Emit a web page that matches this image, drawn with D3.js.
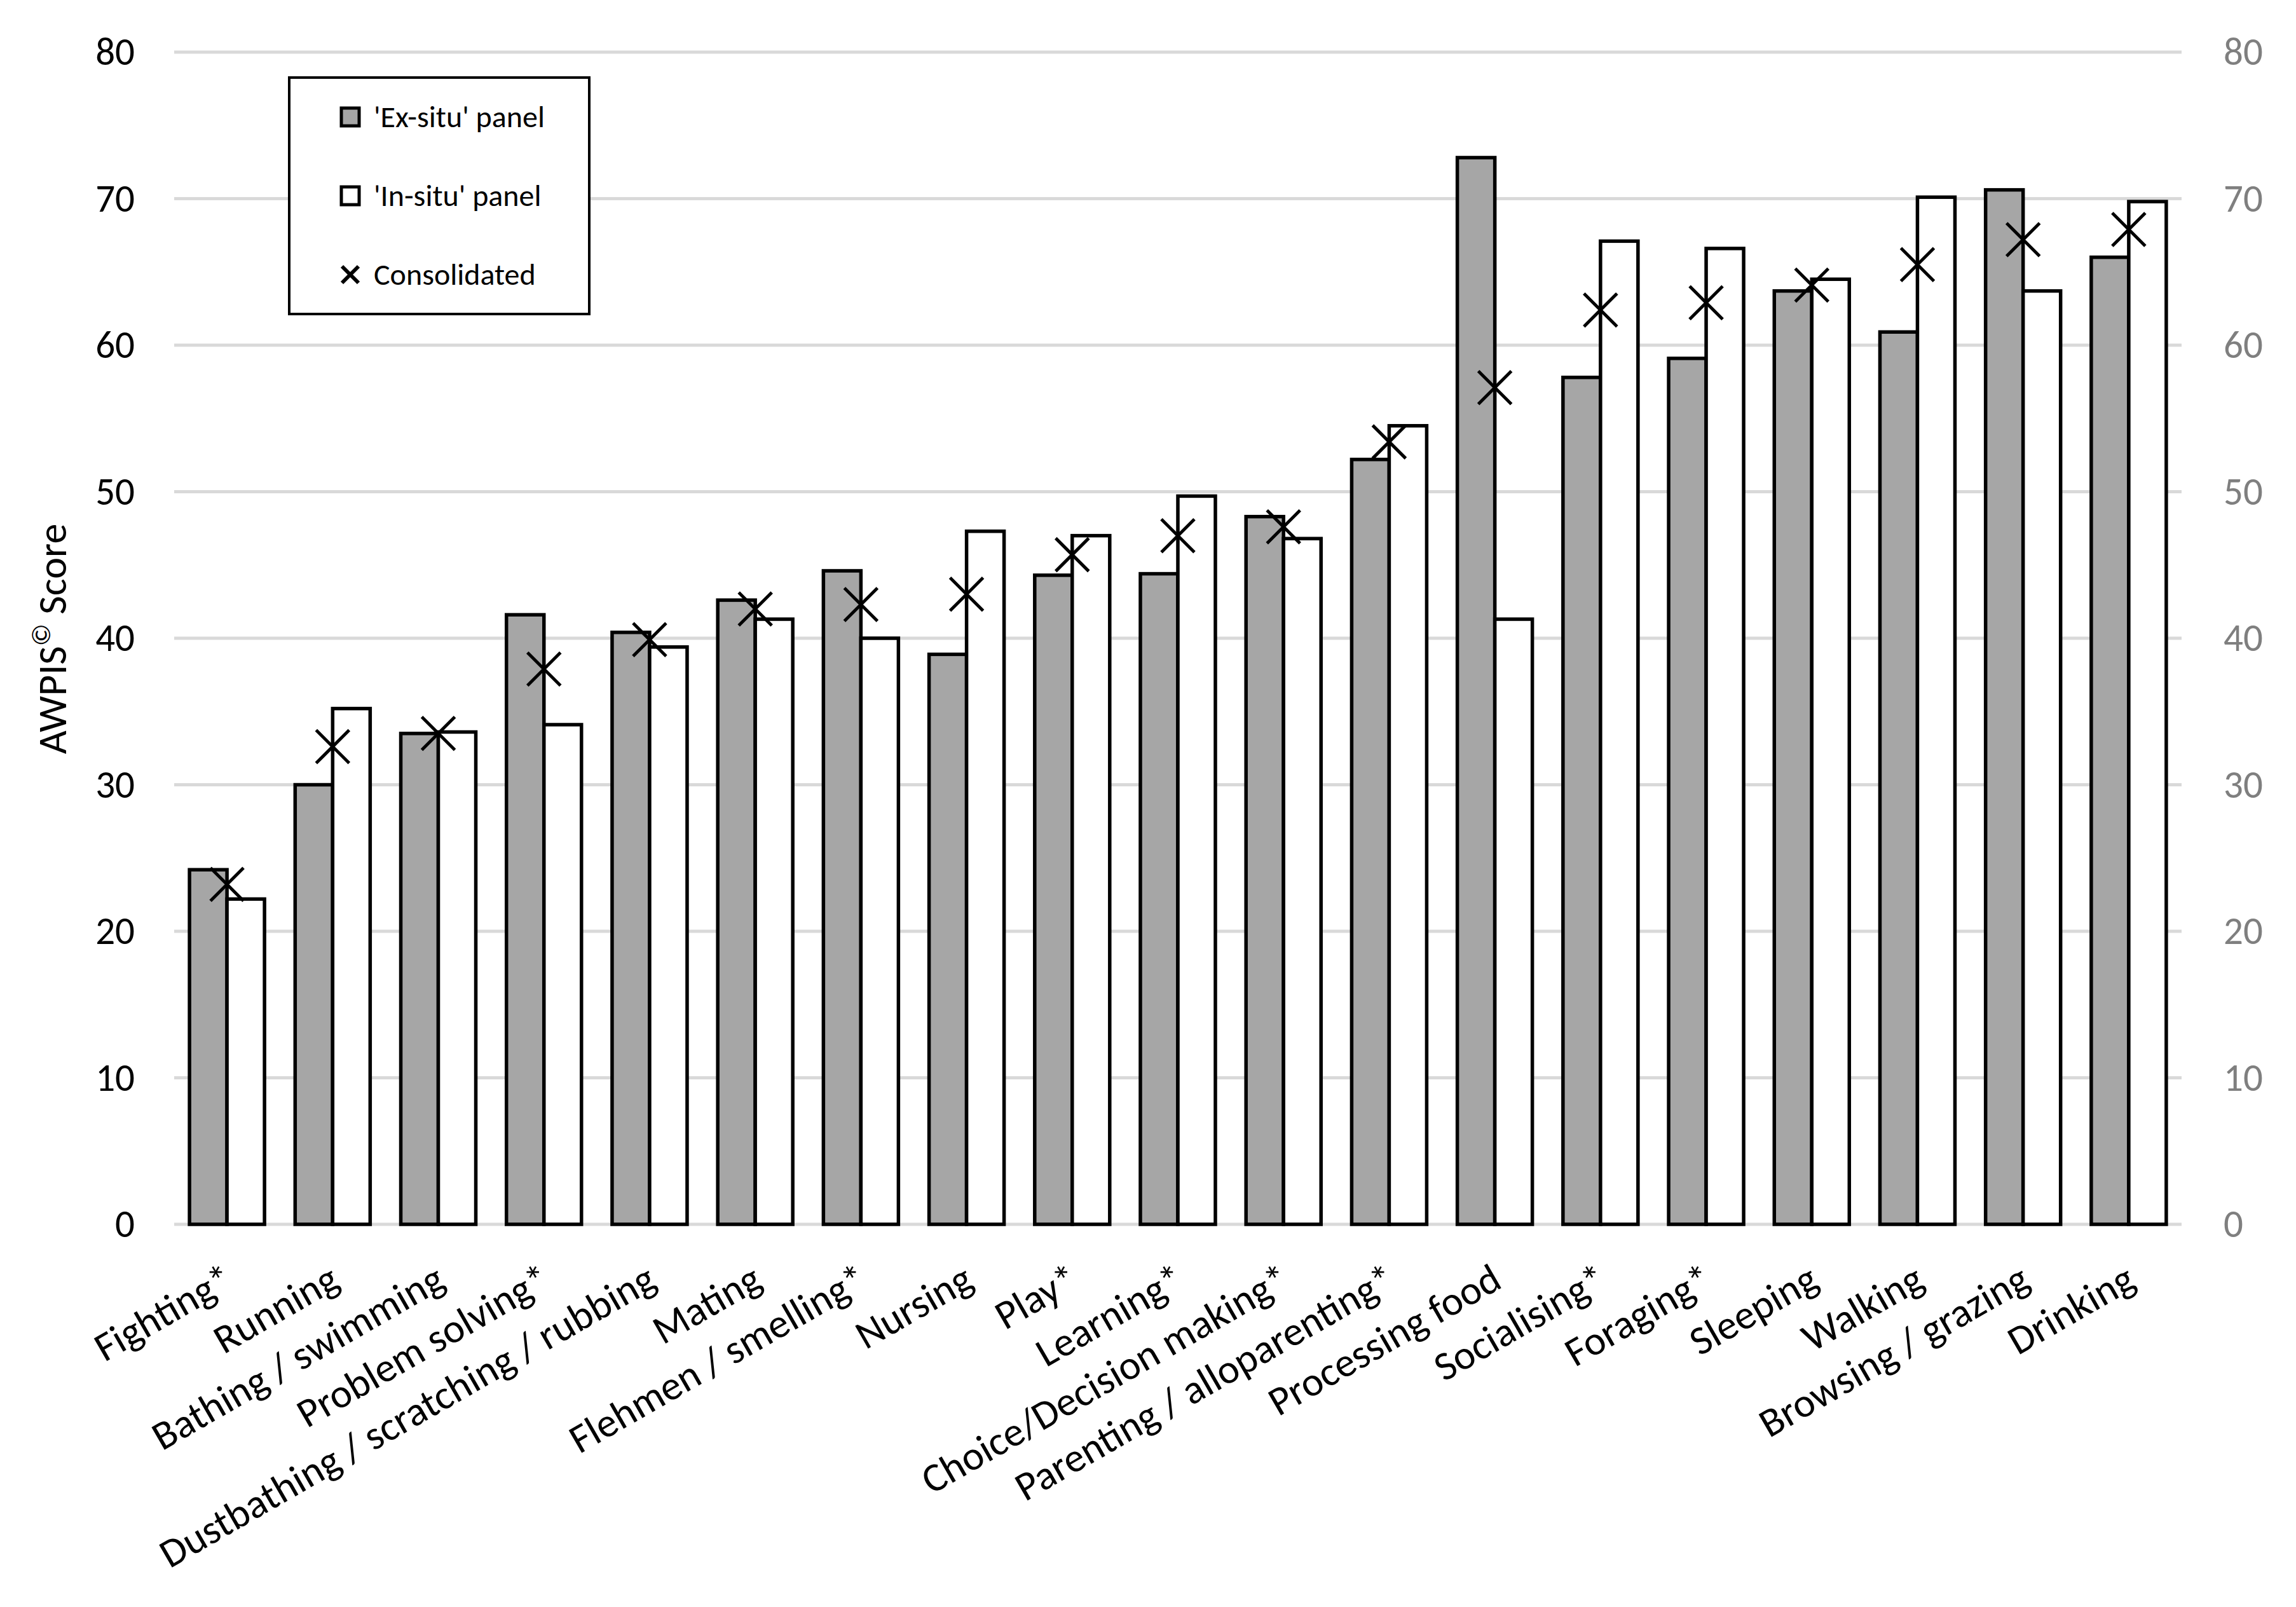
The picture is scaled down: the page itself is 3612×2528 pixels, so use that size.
<!DOCTYPE html>
<html>
<head>
<meta charset="utf-8">
<script src="https://cdn.jsdelivr.net/npm/d3@7"></script>
<style>
  body { margin: 0; background: #fff; }
  text { font-family: Calibri, Carlito, Lato, sans-serif; }
</style>
</head>
<body>
<div id="my_dataviz"></div>
<script>
// chart data
var categories = ["Fighting*", "Running", "Bathing / swimming", "Problem solving*",
  "Dustbathing / scratching / rubbing", "Mating", "Flehmen / smelling*", "Nursing",
  "Play*", "Learning*", "Choice/Decision making*", "Parenting / alloparenting*",
  "Processing food", "Socialising*", "Foraging*", "Sleeping", "Walking",
  "Browsing / grazing", "Drinking"];
var exSitu = [24.2, 30.0, 33.5, 41.6, 40.4, 42.6, 44.6, 38.9, 44.3, 44.4, 48.3, 52.2,
  72.8, 57.8, 59.1, 63.7, 60.9, 70.6, 66.0];
var inSitu = [22.2, 35.2, 33.6, 34.1, 39.4, 41.3, 40.0, 47.3, 47.0, 49.7, 46.8, 54.5,
  41.3, 67.1, 66.6, 64.5, 70.1, 63.7, 69.8];
var consolidated = [23.2, 32.6, 33.5, 37.9, 39.9, 42.0, 42.3, 43.0, 45.7, 47.0, 47.6,
  53.4, 57.1, 62.4, 62.9, 64.1, 65.5, 67.2, 67.9];
var seriesNames = ["'Ex-situ' panel", "'In-situ' panel", "Consolidated"];
var yTicks = [0, 10, 20, 30, 40, 50, 60, 70, 80];

document.addEventListener("DOMContentLoaded", function () {
  drawChart();
});

function drawChart() {
  var width = 3612, height = 2528;
  var left = 274, right = 3432, top = 82, bottom = 1926;

  var svg = d3.select("#my_dataviz")
    .append("svg")
    .attr("width", width)
    .attr("height", height)
    .style("background", "#fff");

  var rows = categories.map(function (c, i) {
    return { cat: c, ex: exSitu[i], in: inSitu[i], cons: consolidated[i] };
  });

  var x0 = d3.scaleBand()
    .domain(categories)
    .range([left, right])
    .paddingInner(0.29)
    .paddingOuter(0.145);

  var x1 = d3.scaleBand()
    .domain(["ex", "in"])
    .range([0, x0.bandwidth()]);

  var y = d3.scaleLinear().domain([0, 80]).range([bottom, top]);

  // gridlines
  svg.append("g")
    .selectAll("line")
    .data(yTicks)
    .enter()
    .append("line")
    .attr("x1", left)
    .attr("x2", right)
    .attr("y1", function (d) { return y(d); })
    .attr("y2", function (d) { return y(d); })
    .attr("stroke", "#d9d9d9")
    .attr("stroke-width", 5);

  // left axis
  var leftAxis = svg.append("g")
    .attr("transform", "translate(" + left + ",0)")
    .call(d3.axisLeft(y).tickValues(yTicks).tickSize(0).tickPadding(62));
  leftAxis.select(".domain").remove();
  leftAxis.selectAll("text")
    .style("font-family", "Calibri, Carlito, Lato, sans-serif")
    .style("font-size", "61px")
    .attr("fill", "#000");

  // right axis
  var rightAxis = svg.append("g")
    .attr("transform", "translate(" + right + ",0)")
    .call(d3.axisRight(y).tickValues(yTicks).tickSize(0).tickPadding(66));
  rightAxis.select(".domain").remove();
  rightAxis.selectAll("text")
    .style("font-family", "Calibri, Carlito, Lato, sans-serif")
    .style("font-size", "61px")
    .attr("fill", "#7f7f7f");

  // bars
  var groups = svg.append("g")
    .selectAll("g")
    .data(rows)
    .enter()
    .append("g")
    .attr("transform", function (d) { return "translate(" + x0(d.cat) + ",0)"; });

  groups.selectAll("rect")
    .data(function (d) { return [{ key: "ex", v: d.ex }, { key: "in", v: d.in }]; })
    .enter()
    .append("rect")
    .attr("x", function (d) { return x1(d.key); })
    .attr("y", function (d) { return y(d.v); })
    .attr("width", x1.bandwidth())
    .attr("height", function (d) { return y(0) - y(d.v); })
    .attr("fill", function (d) { return d.key == "ex" ? "#a6a6a6" : "#ffffff"; })
    .attr("stroke", "#000")
    .attr("stroke-width", 5.5);

  // consolidated crosses
  var s = 26;
  svg.append("g")
    .selectAll("path")
    .data(rows)
    .enter()
    .append("path")
    .attr("d", function (d) {
      var cx = x0(d.cat) + x0.bandwidth() / 2, cy = y(d.cons);
      return "M" + (cx - s) + "," + (cy - s) + "L" + (cx + s) + "," + (cy + s) +
        "M" + (cx - s) + "," + (cy + s) + "L" + (cx + s) + "," + (cy - s);
    })
    .attr("stroke", "#000")
    .attr("stroke-width", 5)
    .attr("fill", "none");

  // category labels
  svg.append("g")
    .selectAll("text")
    .data(categories)
    .enter()
    .append("text")
    .attr("transform", function (d) {
      return "translate(" + (x0(d) + x0.bandwidth() / 2 + 14) + "," + (bottom + 98) + ") rotate(-30)";
    })
    .attr("text-anchor", "end")
    .style("font-size", "64px")
    .attr("fill", "#000")
    .text(function (d) { return d; });

  // y axis title
  var title = svg.append("text")
    .attr("transform", "translate(104,1005) rotate(-90)")
    .attr("text-anchor", "middle")
    .style("font-size", "64px")
    .attr("fill", "#000");
  title.append("tspan").text("AWPIS");
  title.append("tspan").text("©").attr("baseline-shift", "super").style("font-size", "42px");
  title.append("tspan").text(" Score");

  // legend
  var legend = svg.append("g");
  legend.append("rect")
    .attr("x", 455)
    .attr("y", 122)
    .attr("width", 472)
    .attr("height", 372)
    .attr("fill", "#fff")
    .attr("stroke", "#000")
    .attr("stroke-width", 4);

  var legY = [184, 308, 432];
  legend.selectAll("legRect")
    .data(seriesNames.slice(0, 2))
    .enter()
    .append("rect")
    .attr("x", 537)
    .attr("y", function (d, i) { return legY[i] - 14; })
    .attr("width", 28)
    .attr("height", 28)
    .attr("fill", function (d, i) { return i == 0 ? "#a6a6a6" : "#fff"; })
    .attr("stroke", "#000")
    .attr("stroke-width", 5);

  var ls = 13;
  legend.append("path")
    .attr("d", "M" + (551 - ls) + "," + (legY[2] - ls) + "L" + (551 + ls) + "," + (legY[2] + ls) +
      "M" + (551 - ls) + "," + (legY[2] + ls) + "L" + (551 + ls) + "," + (legY[2] - ls))
    .attr("stroke", "#000")
    .attr("stroke-width", 6);

  legend.selectAll("legText")
    .data(seriesNames)
    .enter()
    .append("text")
    .attr("x", 588)
    .attr("y", function (d, i) { return legY[i] + 16; })
    .style("font-size", "48px")
    .attr("fill", "#000")
    .text(function (d) { return d; });
}
</script>
</body>
</html>
